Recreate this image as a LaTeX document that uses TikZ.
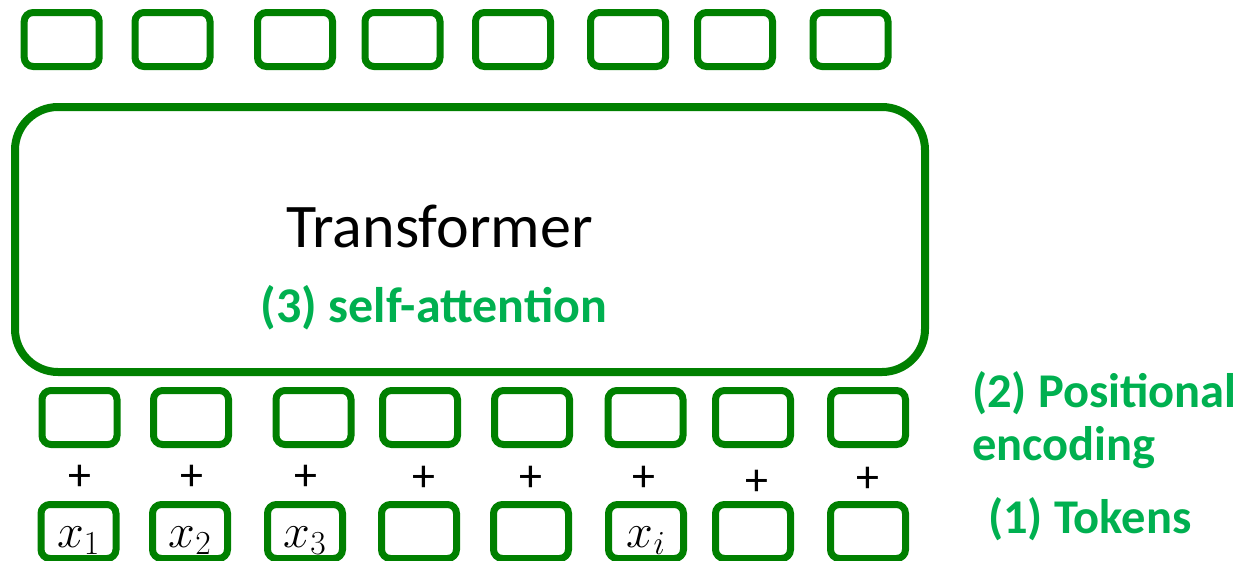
\documentclass[tikz,border=0pt]{standalone}
\usepackage{fix-cm}
\usepackage{fontspec}
\setmainfont{Carlito}
\definecolor{cellgreen}{HTML}{008000}
\definecolor{notegreen}{HTML}{00B050}
\begin{document}
\begin{tikzpicture}[x=1pt,y=-1pt]
  \tikzset{cell/.style={draw=cellgreen, line width=7pt, rounded corners=9pt, minimum width=75pt, minimum height=54pt, inner sep=0pt},
    note/.style={text=notegreen, font=\fontsize{48.5}{53}\selectfont\bfseries, inner sep=0pt}}
  \useasboundingbox (0,0) rectangle (1239,560);
  % output row
  \foreach \x [count=\i] in {61.7,172.5,295,402.5,513,628,735,850.5}
    \node[cell] (out\i) at (\x,39.5) {};
  \node[draw=cellgreen, line width=8pt, rounded corners=43pt, minimum width=910pt, minimum height=265pt] (trf) at (470,239.5) {};
  \node[anchor=base, inner sep=0pt, font=\fontsize{62}{72}\selectfont] (trfname) at (439.5,247) {Transformer};
  \node[note, anchor=base, font=\fontsize{50}{53}\selectfont\bfseries] (attn) at (434,322) {(3) self-attention};
  % positional encoding row
  \foreach \x [count=\i] in {79.5,191,313.5,420,532,645.5,753,868}
    \node[cell] (pos\i) at (\x,417.5) {};
  % plus signs
  \foreach \x/\y [count=\i] in {80/478,192/478,306/478,424/479,531/479,644/479,757/483,868/480}
    \node[font=\fontsize{46}{46}\selectfont, inner sep=0pt] (plus\i) at (\x,\y) {+};
  % tokens
  \foreach \x/\t [count=\i] in {78.5/$x_1$,190/$x_2$,305/$x_3$,419/,531/,646/$x_i$,753/,868/}
    \node[cell, text height=31pt, text depth=0pt, font=\fontsize{48}{48}\selectfont] (tok\i) at (\x,531.5) {\t};
  \node[note, anchor=base west, align=left] (posnote) at (972,460) {(2) Positional\\encoding};
  \node[note, anchor=base west] (toknote) at (988,533) {(1) Tokens};
\end{tikzpicture}
\end{document}
